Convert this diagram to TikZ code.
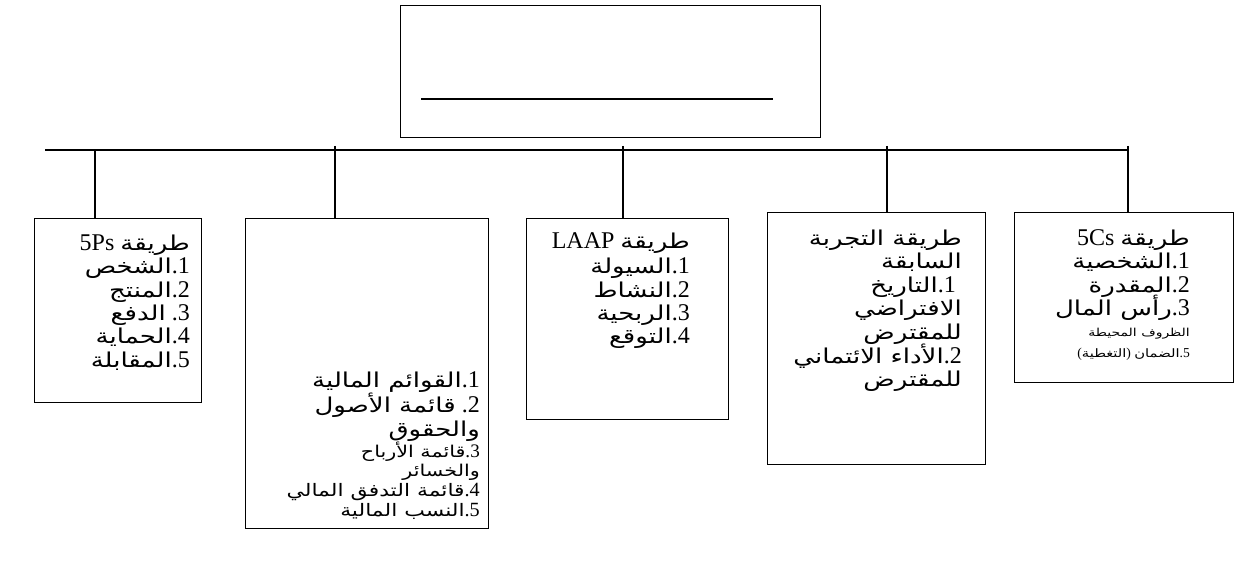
\documentclass[tikz,border=0pt]{standalone}
\usepackage{fontspec}
\setmainfont{Liberation Serif}
\newfontfamily\arabicfont[Script=Arabic,Scale=0.853,FakeStretch=1.27]{DejaVu Sans}
\TeXXeTstate=1
\newcommand{\ar}[1]{{\arabicfont\beginR #1\endR}}
\begin{document}
\begin{tikzpicture}[x=1pt,y=-1pt,
  box/.style={draw=black,line width=1.3pt,inner sep=0pt,anchor=north west,fill=white},
  conn/.style={draw=black,line width=1.3pt},
  bus/.style={draw=black,line width=1.8pt},
  txt/.style={anchor=base east,inner sep=0pt,font=\fontsize{24}{26}\selectfont},
  txtm/.style={anchor=base east,inner sep=0pt,font=\fontsize{20.2}{22}\selectfont},
  txts/.style={anchor=base east,inner sep=0pt,font=\fontsize{19.1}{21}\selectfont},
  txtxs/.style={anchor=base east,inner sep=0pt,font=\fontsize{12.9}{14}\selectfont},
  txtxm/.style={anchor=base east,inner sep=0pt,font=\fontsize{13.6}{15}\selectfont}]
\useasboundingbox (0,0) rectangle (1248,585);

% top box
\node[box,minimum width=420pt,minimum height=132pt] (top) at (400,5) {};
\coordinate (ulA) at (421,99);
\coordinate (ulB) at (773,99);
\draw[line width=2.2pt] (ulA) -- (ulB);

% boxes
\node[box,minimum width=167pt,minimum height=184pt] (b1) at (34,218) {};
\node[box,minimum width=243pt,minimum height=310pt] (b2) at (245,218) {};
\node[box,minimum width=202pt,minimum height=201pt] (b3) at (526,218) {};
\node[box,minimum width=218pt,minimum height=252pt] (b4) at (767,212) {};
\node[box,minimum width=219pt,minimum height=170pt] (b5) at (1014,212) {};

% bus and drops
\coordinate (busL) at (45,150);
\coordinate (busR) at (1128,150);
\draw[bus] (busL) -- (busR);
\coordinate (d1) at (95,150);
\coordinate (d2) at (335,146);
\coordinate (d3) at (623,146);
\coordinate (d4) at (887,146);
\coordinate (d5) at (1128,146);
\draw[conn] (d1) -- (d1 |- b1.north);
\draw[conn] (d2) -- (d2 |- b2.north);
\draw[conn] (d3) -- (d3 |- b3.north);
\draw[conn] (d4) -- (d4 |- b4.north);
\draw[conn] (d5) -- (d5 |- b5.north);

% box 1: 5Ps
\node[txt] (b1t0) at (190,251) {5Ps \ar{طريقة}};
\node[txt] (b1t1) at (190,274) {\ar{الشخص}.1};
\node[txt] (b1t2) at (190,298) {\ar{المنتج}.2};
\node[txt] (b1t3) at (190,321) {\ar{الدفع}\ .3};
\node[txt] (b1t4) at (190,344) {\ar{الحماية}.4};
\node[txt] (b1t5) at (190,367) {\ar{المقابلة}.5};

% box 2
\node[txt] (b2t1) at (480,388) {\ar{القوائم المالية}.1};
\node[txt] (b2t2) at (480,412) {\ar{قائمة الأصول}\ .2};
\node[txt] (b2t3) at (480,436) {\ar{والحقوق}};
\node[txts] (b2t4) at (480,457) {\ar{قائمة الأرباح}.3};
\node[txts] (b2t5) at (480,476) {\ar{والخسائر}};
\node[txtm] (b2t6) at (480,496) {\ar{قائمة التدفق المالي}.4};
\node[txtm] (b2t7) at (480,516) {\ar{النسب المالية}.5};

% box 3: LAAP
\node[txt] (b3t0) at (690,249) {LAAP \ar{طريقة}};
\node[txt] (b3t1) at (690,274) {\ar{السيولة}.1};
\node[txt] (b3t2) at (690,298) {\ar{النشاط}.2};
\node[txt] (b3t3) at (690,321) {\ar{الربحية}.3};
\node[txt] (b3t4) at (690,344) {\ar{التوقع}.4};

% box 4: past experience
\node[txt] (b4t0) at (962,246) {\ar{طريقة التجربة}};
\node[txt] (b4t1) at (962,269) {\ar{السابقة}};
\node[txt] (b4t2) at (956,293) {\ar{التاريخ}.1};
\node[txt] (b4t3) at (962,316) {\ar{الافتراضي}};
\node[txt] (b4t4) at (962,340) {\ar{للمقترض}};
\node[txt] (b4t5) at (962,363) {\ar{الأداء الائتماني}.2};
\node[txt] (b4t6) at (962,386) {\ar{للمقترض}};

% box 5: 5Cs
\node[txt] (b5t0) at (1190,246) {5Cs \ar{طريقة}};
\node[txt] (b5t1) at (1190,269) {\ar{الشخصية}.1};
\node[txt] (b5t2) at (1190,293) {\ar{المقدرة}.2};
\node[txt] (b5t3) at (1190,316) {\ar{رأس المال}.3};
\node[txtxs] (b5t4) at (1190,337) {\ar{الظروف المحيطة}};
\node[txtxm] (b5t5) at (1190,357) {(\ar{التغطية}) \ar{الضمان}.5};
\end{tikzpicture}
\end{document}
